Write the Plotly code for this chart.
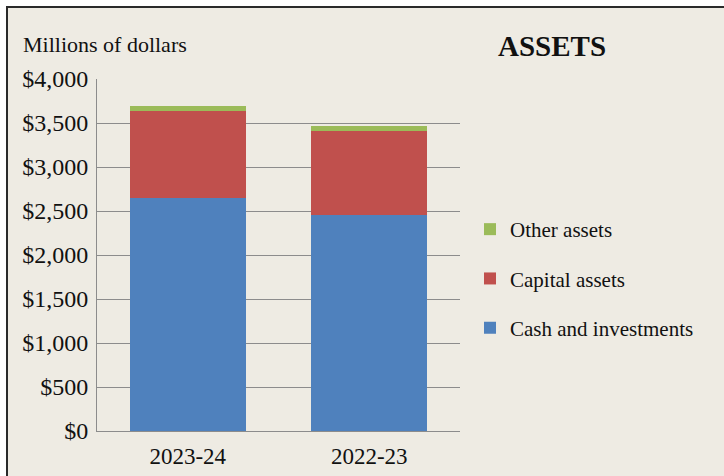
import plotly.graph_objects as go

categories = ["2023-24", "2022-23"]
cash = [2648, 2455]
capital = [992, 958]
other = [57, 57]
series_names = ["Cash and investments", "Capital assets", "Other assets"]
colors = ["#4F81BD", "#C0504D", "#9BBB59"]

W, H = 724, 476
L, R, T, B = 97, 460, 79, 431

def px(x):
    return (x - L) / (R - L)

def py(y):
    return (B - y) / (B - T)

fig = go.Figure()
for i, (name, vals) in enumerate(zip(series_names, [cash, capital, other])):
    fig.add_trace(go.Bar(x=categories, y=vals, name=name, marker_color=colors[i],
                         marker_line_width=0, legendgroup=str(i), legendrank=10 - i))

font = "Liberation Serif, Times New Roman, serif"
fig.update_layout(
    width=W, height=H,
    margin=dict(l=L, r=W - R, t=T, b=H - B, pad=0, autoexpand=False),
    barmode="stack", bargap=0.36,
    paper_bgcolor="#FFFFFF", plot_bgcolor="rgba(0,0,0,0)",
    font=dict(family=font, size=22, color="#111111"),
    showlegend=True,
    legend=dict(x=px(470), y=py(209), xanchor="left", yanchor="top",
                traceorder="grouped", tracegroupgap=19,
                font=dict(family=font, size=21, color="#111111"),
                bgcolor="rgba(0,0,0,0)", itemwidth=30),
    yaxis=dict(range=[0, 4000], dtick=500, tickprefix="$", tickformat=",.0f",
               showgrid=True, gridcolor="#8C8C8C", gridwidth=1,
               showline=True, linecolor="#8C8C8C", linewidth=1, automargin=False,
               ticks="outside", ticklen=3, tickcolor="rgba(0,0,0,0)", zeroline=False,
               tickfont=dict(family=font, size=24, color="#111111")),
    xaxis=dict(showline=True, linecolor="#8C8C8C", linewidth=1, ticks="outside",
               ticklen=4, tickcolor="rgba(0,0,0,0)", automargin=False,
               tickfont=dict(family=font, size=23, color="#111111")),
    shapes=[dict(type="rect", xref="paper", yref="paper", layer="below",
                 x0=px(7), x1=px(740), y0=py(490), y1=py(7),
                 fillcolor="#EEEBE3", line=dict(color="#2A2A2A", width=2))],
    annotations=[
        dict(text="Millions of dollars", xref="paper", yref="paper",
             x=px(21), y=py(44), xanchor="left", yanchor="middle", showarrow=False,
             font=dict(family=font, size=22, color="#111111")),
        dict(text="<b>ASSETS</b>", xref="paper", yref="paper",
             x=px(496), y=py(46), xanchor="left", yanchor="middle", showarrow=False,
             font=dict(family=font, size=29, color="#111111")),
    ],
)
fig.write_html("out.html", config={"displayModeBar": False},
               post_script="document.body.style.margin='0';")
